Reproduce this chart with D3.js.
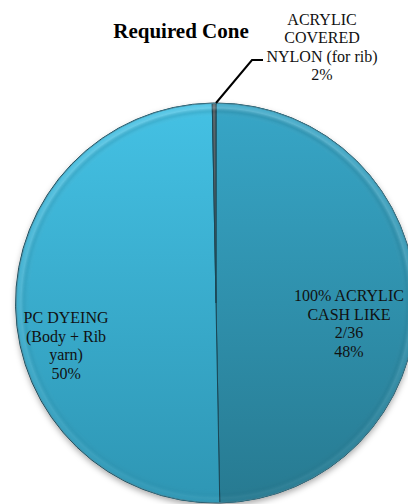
<!DOCTYPE html>
<html>
<head>
<meta charset="utf-8">
<script src="https://cdn.jsdelivr.net/npm/d3@7/dist/d3.min.js"></script>
<style>
  html, body { margin: 0; padding: 0; background: #fff; }
  svg { display: block; }
</style>
</head>
<body>
<svg id="chart" width="408" height="504"></svg>
<script>
// ---- data ----
const title = "Required Cone";
const categories = ["100% ACRYLIC CASH LIKE 2/36", "PC DYEING (Body + Rib yarn)", "ACRYLIC COVERED NYLON (for rib)"];
const percentLabels = ["48%", "50%", "2%"];
// visible share of the disc each slice takes in the picture
const shares = [49.7, 50, 0.3];
const labelLines = [
  ["100% ACRYLIC", "CASH LIKE", "2/36"],
  ["PC DYEING", "(Body + Rib", "yarn)"],
  ["ACRYLIC", "COVERED", "NYLON (for rib)"]
];

// ---- layout / style ----
const W = 408, H = 504;
const cx = 216, cy = 303, R = 200;
const FONT = "'Liberation Serif', Tinos, 'Times New Roman', Times, serif";
const fontSize = 16, lineH = 18.5;
const topColors = ["#37a6c7", "#44c1e4", "#5a666b"];
const botColors = ["#277a91", "#2e96b4", "#3f4c52"];

const svg = d3.select("#chart");
const defs = svg.append("defs");

categories.forEach((c, i) => {
  const g = defs.append("linearGradient").attr("id", "g" + i)
    .attr("gradientUnits", "userSpaceOnUse")
    .attr("x1", 0).attr("y1", -R).attr("x2", 0).attr("y2", R);
  g.append("stop").attr("offset", 0).attr("stop-color", topColors[i]);
  g.append("stop").attr("offset", 1).attr("stop-color", botColors[i]);
});

// bevel ring
const bev = defs.append("radialGradient").attr("id", "bevel")
  .attr("gradientUnits", "userSpaceOnUse")
  .attr("cx", 0).attr("cy", 0).attr("r", R);
[[0, "#fff", 0], [0.93, "#fff", 0], [0.955, "#000", 0.07], [0.975, "#fff", 0.2], [1, "#fff", 0.05]]
  .forEach(s => bev.append("stop").attr("offset", s[0]).attr("stop-color", s[1]).attr("stop-opacity", s[2]));

const topLight = defs.append("linearGradient").attr("id", "topLight")
  .attr("gradientUnits", "userSpaceOnUse")
  .attr("x1", 0).attr("y1", -R).attr("x2", 0).attr("y2", R);
topLight.append("stop").attr("offset", 0).attr("stop-color", "#fff").attr("stop-opacity", 1);
topLight.append("stop").attr("offset", 0.6).attr("stop-color", "#fff").attr("stop-opacity", 0.5);
topLight.append("stop").attr("offset", 1).attr("stop-color", "#fff").attr("stop-opacity", 0.2);
defs.append("mask").attr("id", "tlMask")
  .attr("maskUnits", "userSpaceOnUse")
  .attr("x", -R - 5).attr("y", -R - 5).attr("width", 2 * R + 10).attr("height", 2 * R + 10)
  .append("rect").attr("x", -R - 5).attr("y", -R - 5).attr("width", 2 * R + 10).attr("height", 2 * R + 10)
  .attr("fill", "url(#topLight)");

const sh = defs.append("filter").attr("id", "shadow")
  .attr("x", "-10%").attr("y", "-10%").attr("width", "120%").attr("height", "125%");
sh.append("feDropShadow").attr("dx", 0).attr("dy", 3).attr("stdDeviation", 3)
  .attr("flood-color", "#000").attr("flood-opacity", 0.35);

const pie = d3.pie().sort(null).value(d => d.v)
  .startAngle(0).endAngle(2 * Math.PI);
const data = categories.map((c, i) => ({ c, v: shares[i], i }));
const arcs = pie(data);
const arc = d3.arc().innerRadius(0).outerRadius(R);

const g = svg.append("g").attr("transform", `translate(${cx},${cy})`);

// shadow disc
g.append("circle").attr("r", R).attr("fill", "#2f8fab").attr("filter", "url(#shadow)");

g.selectAll("path.slice").data(arcs).enter().append("path")
  .attr("class", "slice")
  .attr("d", arc)
  .attr("fill", d => `url(#g${d.data.i})`)
  .attr("stroke", "#1b4654")
  .attr("stroke-width", 1)
  .attr("stroke-linejoin", "round");

// bevel overlay
g.append("circle").attr("r", R).attr("fill", "url(#bevel)")
  .attr("mask", "url(#tlMask)");
g.append("circle").attr("r", R - 0.3).attr("fill", "none")
  .attr("stroke", "#4f8fa3").attr("stroke-width", 0.7);

// title
svg.append("text").attr("x", 181).attr("y", 38)
  .attr("text-anchor", "middle")
  .attr("font-family", FONT)
  .attr("font-weight", "bold").attr("font-size", 21)
  .attr("fill", "#000")
  .text(title);

// inside labels
const labelArc = d3.arc().innerRadius(R * 0.7).outerRadius(R * 0.7);
const insideOffset = [[-7, 22], [-10, 40]];
[0, 1].forEach(k => {
  const [x0, y0] = labelArc.centroid(arcs[k]);
  const lines = labelLines[k].concat([percentLabels[k]]);
  const t = g.append("text")
    .attr("text-anchor", "middle")
    .attr("font-family", FONT).attr("font-size", fontSize).attr("fill", "#111");
  const x = x0 + insideOffset[k][0];
  const yMid = y0 + insideOffset[k][1];
  lines.forEach((ln, j) => {
    t.append("tspan").attr("x", x)
      .attr("y", yMid + (j - (lines.length - 1) / 2) * lineH + fontSize * 0.33)
      .text(ln);
  });
});

// outside label with leader line for the thin slice
const small = arcs[2];
const edgePt = [R * Math.sin(small.endAngle), -R * Math.cos(small.endAngle)];
const elbow = [edgePt[0] + 36, edgePt[1] - 43];
const end = [elbow[0] + 11, elbow[1]];
g.append("polyline")
  .attr("points", [edgePt, elbow, end].map(p => p.join(",")).join(" "))
  .attr("fill", "none").attr("stroke", "#000").attr("stroke-width", 2);

const outLines = labelLines[2].concat([percentLabels[2]]);
const ot = g.append("text").attr("text-anchor", "middle")
  .attr("font-family", FONT).attr("font-size", fontSize).attr("fill", "#111");
const ox = end[0] + 59, oyMid = end[1] - 13;
outLines.forEach((ln, j) => {
  ot.append("tspan").attr("x", ox)
    .attr("y", oyMid + (j - (outLines.length - 1) / 2) * lineH + fontSize * 0.33)
    .text(ln);
});
</script>
</body>
</html>
